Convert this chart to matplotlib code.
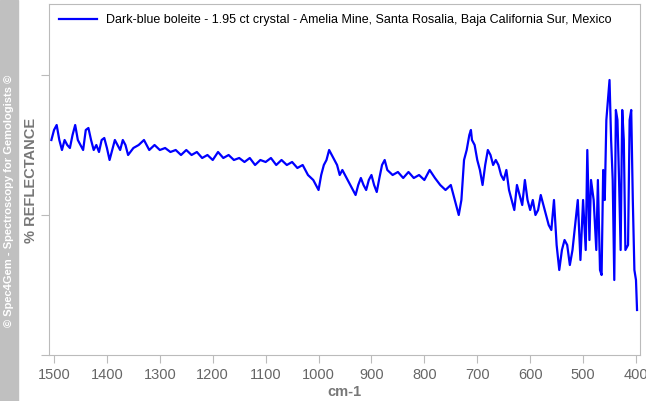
import matplotlib
matplotlib.use("Agg")
import matplotlib.pyplot as plt

plt.rcParams["font.family"] = "Liberation Sans"

wn = [1505,1500,1495,1490,1485,1480,1475,1470,1465,1460,1455,1450,1445,1440,1435,1430,1425,1420,1415,1410,1405,1400,1395,1390,1385,1380,1375,1370,1365,1360,1350,1340,1330,1320,1310,1300,1290,1280,1270,1260,1250,1240,1230,1220,1210,1200,1190,1180,1170,1160,1150,1140,1130,1120,1110,1100,1090,1080,1070,1060,1050,1040,1030,1020,1010,1005,1000,995,990,985,980,975,970,965,960,955,950,945,940,935,930,925,920,915,910,905,900,895,890,885,880,875,870,860,850,840,830,820,810,800,790,780,770,760,750,745,740,735,730,725,720,715,712,710,705,700,695,690,685,680,675,670,665,660,655,650,645,640,635,630,625,620,615,610,605,600,595,590,585,580,575,570,565,560,555,550,545,540,535,530,525,520,515,510,505,500,495,492,488,485,480,475,472,468,465,462,459,456,453,450,447,444,441,438,435,432,429,426,423,420,415,412,409,406,403,400,398]
pix = [140,130,125,140,150,140,145,148,135,125,140,145,150,130,128,140,150,145,152,140,138,148,160,150,140,145,150,140,145,155,148,145,140,150,145,150,148,152,150,155,150,155,152,158,155,160,152,158,155,160,158,162,158,165,160,162,158,165,160,165,162,168,165,175,180,185,190,175,165,160,150,155,160,165,175,170,175,180,185,190,195,185,178,185,190,180,175,185,192,178,165,160,170,175,172,178,172,178,175,180,170,178,185,190,185,195,205,215,200,160,150,135,130,140,145,160,170,185,165,150,155,165,160,165,175,180,170,190,200,210,185,195,205,180,200,210,200,215,210,195,205,215,225,230,200,245,270,250,240,245,265,250,225,200,260,200,250,150,240,180,200,250,180,270,275,170,200,120,100,80,140,180,280,110,120,180,250,110,140,250,245,120,110,200,270,280,310]
reflectance = [355 - p for p in pix]

fig = plt.figure(figsize=(6.46, 4.01), dpi=100)
fig.patches.append(plt.Rectangle((0, 0), 18/646, 1, transform=fig.transFigure, color="#c0c0c0", zorder=0))
fig.text(9/646, 0.5, "© Spec4Gem - Spectroscopy for Gemologists ©", rotation=90, color="white",
         fontsize=8, fontweight="bold", ha="center", va="center")
fig.text(31/646, 1-180/401, "% REFLECTANCE", rotation=90, color="#777777",
         fontsize=10.5, fontweight="bold", ha="center", va="center")
ax = fig.add_axes([49/646, 1-355/401, 591/646, 351/401])
ax.plot(wn, reflectance, color="#0000ff", lw=1.6,
        label="Dark-blue boleite - 1.95 ct crystal - Amelia Mine, Santa Rosalia, Baja California Sur, Mexico")
ax.set_xlim(1509.5, 392.4)
ax.set_ylim(0, 351)
ax.set_xticks(range(1500, 399, -100))
ax.set_yticks([0, 140, 280])
ax.set_yticklabels([])
for s in ax.spines.values():
    s.set_color("#bbbbbb")
ax.tick_params(colors="#bbbbbb", labelcolor="#666666", labelsize=10.5, length=6)
ax.set_xlabel("cm-1", color="#777777", fontweight="bold", fontsize=10.5, labelpad=2)
ax.legend(loc="upper left", frameon=False, fontsize=9, handlelength=3, borderaxespad=0.4)
fig.savefig("out.png", dpi=100)
